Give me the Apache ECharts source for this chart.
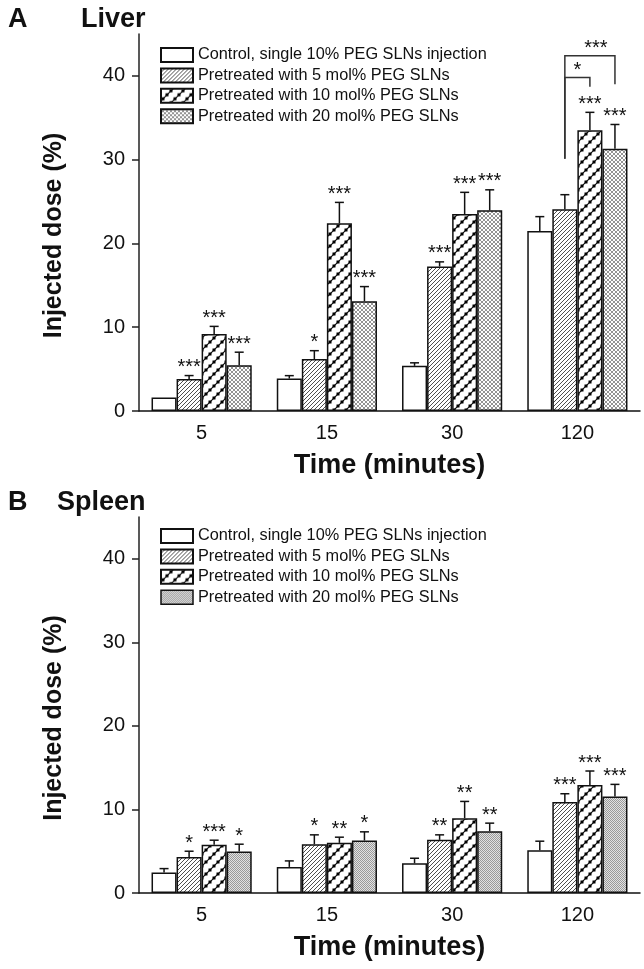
<!DOCTYPE html>
<html><head><meta charset="utf-8">
<script src="https://cdn.jsdelivr.net/npm/echarts@6/dist/echarts.min.js"></script>
<style>html,body{margin:0;padding:0;background:#fff}#c{width:644px;height:969px}</style>
</head><body><div id="c"></div>
<script>
// ---------- data ----------
const categories = ['5', '15', '30', '120'];
const seriesNames = [
  'Control, single 10% PEG SLNs injection',
  'Pretreated with 5 mol% PEG SLNs',
  'Pretreated with 10 mol% PEG SLNs',
  'Pretreated with 20 mol% PEG SLNs'
];
const yTicks = [0, 10, 20, 30, 40];

// Liver (panel A)
const liverControl = [1.6, 3.87, 5.39, 21.5];
const liverControlErr = [0, 0.35, 0.36, 1.7];
const liver5 = [3.83, 6.2, 17.25, 24.07];
const liver5Err = [0.4, 1.0, 0.55, 1.75];
const liver10 = [9.2, 22.4, 23.5, 33.5];
const liver10Err = [0.9, 2.5, 2.6, 2.15];
const liver20 = [5.47, 13.1, 23.95, 31.3];
const liver20Err = [1.55, 1.75, 2.45, 2.9];
const liverSigControl = ['', '', '', ''];
const liverSig5 = ['***', '*', '***', ''];
const liverSig10 = ['***', '***', '***', '***'];
const liverSig20 = ['***', '***', '***', '***'];
// comparison brackets (panel A, at 120 min)
const bracketCategory = [3, 3];
const bracketFrom = [1, 1];
const bracketTo = [2, 3];
const bracketTop = [39.8, 42.4];
const bracketLeftEnd = [30.1, 30.1];
const bracketRightEnd = [38.7, 39.0];
const bracketLabels = ['*', '***'];

// Spleen (panel B)
const spleenControl = [2.44, 3.12, 3.56, 5.12];
const spleenControlErr = [0.48, 0.72, 0.6, 1.08];
const spleen5 = [4.32, 5.84, 6.36, 10.88];
const spleen5Err = [0.68, 1.12, 0.6, 1.0];
const spleen10 = [5.76, 6.0, 8.96, 12.92];
const spleen10Err = [0.56, 0.68, 2.0, 1.68];
const spleen20 = [4.96, 6.28, 7.4, 11.56];
const spleen20Err = [0.88, 1.04, 0.96, 1.44];
const spleenSigControl = ['', '', '', ''];
const spleenSig5 = ['*', '*', '**', '***'];
const spleenSig10 = ['***', '**', '**', '***'];
const spleenSig20 = ['*', '*', '**', '***'];

// ---------- patterns ----------
function tile(w, h, draw) {
  const c = document.createElement('canvas');
  c.width = w; c.height = h;
  const g = c.getContext('2d');
  g.fillStyle = '#fff'; g.fillRect(0, 0, w, h);
  draw(g, w, h);
  return { image: c, repeat: 'repeat' };
}
function diag(g, w, h, col, lw) {
  g.strokeStyle = col; g.lineWidth = lw;
  g.beginPath();
  g.moveTo(-1, h + 1); g.lineTo(w + 1, -1);
  g.moveTo(-1, 1); g.lineTo(1, -1);
  g.moveTo(w - 1, h + 1); g.lineTo(w + 1, h - 1);
  g.stroke();
}
const patWhite = '#ffffff';
const patHatch = tile(4, 4, (g, w, h) => diag(g, w, h, '#222', 0.8));
const patDots = tile(12, 12, (g, w, h) => {
  diag(g, w, h, '#111', 1.2);
  g.fillStyle = '#000';
  g.fillRect(0.5, 8.5, 3, 3);
  g.fillRect(4.5, 4.5, 3, 3);
  g.fillRect(8.5, 0.5, 3, 3);
});
const patCross = tile(4, 4, (g, w, h) => {
  diag(g, w, h, '#666', 0.7);
  g.strokeStyle = '#666'; g.lineWidth = 0.7;
  g.beginPath();
  g.moveTo(-1, -1); g.lineTo(w + 1, h + 1);
  g.moveTo(w - 1, -1); g.lineTo(w + 1, 1);
  g.moveTo(-1, h - 1); g.lineTo(1, h + 1);
  g.stroke();
});
const patStipple = tile(2, 2, (g) => {
  g.fillStyle = '#e2e2e2'; g.fillRect(0, 0, 2, 2);
  g.fillStyle = '#9a9a9a'; g.fillRect(0, 0, 1, 1); g.fillRect(1, 1, 1, 1);
});

const FONT = '"Liberation Sans", Arial, Helvetica, sans-serif';
const INK = '#111';

const panels = [
  { vals: [liverControl, liver5, liver10, liver20],
    errs: [liverControlErr, liver5Err, liver10Err, liver20Err],
    sigs: [liverSigControl, liverSig5, liverSig10, liverSig20],
    fills: [patWhite, patHatch, patDots, patCross] },
  { vals: [spleenControl, spleen5, spleen10, spleen20],
    errs: [spleenControlErr, spleen5Err, spleen10Err, spleen20Err],
    sigs: [spleenSigControl, spleenSig5, spleenSig10, spleenSig20],
    fills: [patWhite, patHatch, patDots, patStipple] }
];

const grids = [
  { left: 139, right: 4, top: 34, height: 377 },
  { left: 139, right: 4, top: 517, height: 376 }
];

const xAxes = grids.map((g, i) => ({
  type: 'category', gridIndex: i, data: categories,
  axisLine: { lineStyle: { color: INK, width: 1.5 } },
  axisTick: { show: false },
  axisLabel: { fontSize: 20, color: INK, margin: 12, fontFamily: FONT },
  name: 'Time (minutes)', nameLocation: 'middle', nameGap: 41,
  nameTextStyle: { fontSize: 27, fontWeight: 'bold', color: INK, fontFamily: FONT }
}));
const yAxes = grids.map((g, i) => ({
  type: 'value', gridIndex: i, min: 0, max: 45, interval: 10,
  axisLine: { show: true, lineStyle: { color: '#222', width: 1.5 } },
  axisTick: { show: true, length: 7, customValues: yTicks, lineStyle: { color: '#222', width: 1.5 } },
  axisLabel: { fontSize: 20, color: INK, margin: 14, fontFamily: FONT, customValues: yTicks },
  splitLine: { show: false },
  name: 'Injected dose (%)', nameLocation: 'middle', nameRotate: 90, nameGap: 72,
  nameTextStyle: { fontSize: 25, fontWeight: 'bold', color: INK, fontFamily: FONT, padding: [0, 26, 0, 0] }
}));

const series = [];
panels.forEach((p, gi) => {
  p.vals.forEach((v, si) => {
    series.push({
      type: 'bar', name: seriesNames[si], xAxisIndex: gi, yAxisIndex: gi,
      data: v, barGap: '0%', barCategoryGap: '20%',
      itemStyle: { color: p.fills[si], borderColor: INK, borderWidth: 1.5 },
      emphasis: { disabled: true }, animation: false, z: 2
    });
  });
  p.vals.forEach((v, si) => {
    const errs = p.errs[si], sigs = p.sigs[si];
    series.push({
      type: 'custom', xAxisIndex: gi, yAxisIndex: gi, z: 3, silent: true, animation: false,
      data: v.map((val, ci) => [ci, val, errs[ci]]),
      renderItem: (params, api) => {
        const ci = api.value(0), val = api.value(1), e = api.value(2);
        const band = api.size([1, 0])[0];
        const x = api.coord([ci, 0])[0] + (si - 1.5) * band * 0.2;
        const yTop = api.coord([ci, val])[1];
        const yErr = api.coord([ci, val + e])[1];
        const children = [];
        if (e > 0) {
          children.push({ type: 'line', shape: { x1: x, y1: yTop, x2: x, y2: yErr }, style: { stroke: INK, lineWidth: 1.5 } });
          children.push({ type: 'line', shape: { x1: x - 4.5, y1: yErr, x2: x + 4.5, y2: yErr }, style: { stroke: INK, lineWidth: 1.5 } });
        }
        const lab = sigs[params.dataIndex];
        if (lab) {
          children.push({ type: 'text', style: { text: lab, x: x, y: yErr - 8, align: 'center', verticalAlign: 'middle', fontSize: 20, fontFamily: FONT, fill: INK } });
        }
        return { type: 'group', children };
      }
    });
  });
});

// brackets on panel A
series.push({
  type: 'custom', xAxisIndex: 0, yAxisIndex: 0, z: 3, silent: true, animation: false,
  data: bracketTop.map((t, i) => [bracketCategory[i], t]),
  renderItem: (params, api) => {
    const i = params.dataIndex;
    const ci = bracketCategory[i];
    const band = api.size([1, 0])[0];
    const cx = api.coord([ci, 0])[0];
    const xl = cx + (bracketFrom[i] - 1.5) * band * 0.2;
    const xr = cx + (bracketTo[i] - 1.5) * band * 0.2;
    const yt = api.coord([ci, bracketTop[i]])[1];
    const yl = api.coord([ci, bracketLeftEnd[i]])[1];
    const yr = api.coord([ci, bracketRightEnd[i]])[1];
    return { type: 'group', children: [
      { type: 'polyline', shape: { points: [[xl, yl], [xl, yt], [xr, yt], [xr, yr]] }, style: { stroke: '#333', lineWidth: 1.5, fill: null } },
      { type: 'text', style: { text: bracketLabels[i], x: (xl + xr) / 2 + (bracketTo[i] - bracketFrom[i] - 1) * 6, y: yt - 7, align: 'center', verticalAlign: 'middle', fontSize: 20, fontFamily: FONT, fill: INK } }
    ] };
  }
});

const legendText = { fontSize: 16.3, color: INK, fontFamily: FONT };
const legends = [
  { orient: 'vertical', left: 160, top: 47, padding: 0, itemWidth: 32, itemHeight: 14, itemGap: 4.4, selectedMode: false,
    textStyle: legendText, data: seriesNames.map(n => ({ name: n, icon: 'rect' })) },
  { orient: 'vertical', left: 160, top: 528, padding: 0, itemWidth: 32, itemHeight: 14, itemGap: 4.4, selectedMode: false,
    textStyle: legendText,
    data: seriesNames.map((n, i) => i === 3
      ? { name: n, icon: 'rect', itemStyle: { color: patStipple, borderColor: INK, borderWidth: 1.5 } }
      : { name: n, icon: 'rect' }) }
];

const titleStyle = { fontSize: 27, fontWeight: 'bold', color: INK, fontFamily: FONT };
const titles = [
  { text: 'A', left: 8, top: 6, padding: 0, textStyle: titleStyle },
  { text: 'Liver', left: 81, top: 6, padding: 0, textStyle: titleStyle },
  { text: 'B', left: 8, top: 489, padding: 0, textStyle: titleStyle },
  { text: 'Spleen', left: 57, top: 489, padding: 0, textStyle: titleStyle }
];

const chart = echarts.init(document.getElementById('c'), null, { renderer: 'canvas' });
chart.setOption({
  animation: false,
  backgroundColor: '#fff',
  title: titles,
  legend: legends,
  grid: grids,
  xAxis: xAxes,
  yAxis: yAxes,
  series
});
</script></body></html>
